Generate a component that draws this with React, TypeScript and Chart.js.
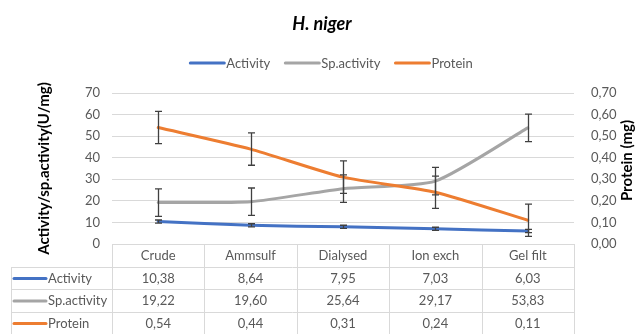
import React, { useEffect, useRef } from "react";
import { Chart, registerables } from "chart.js";

Chart.register(...registerables);

// Purification steps and measured values
const categories = ["Crude", "Ammsulf", "Dialysed", "Ion exch", "Gel filt"];
const activity = [10.38, 8.64, 7.95, 7.03, 6.03];
const spActivity = [19.22, 19.6, 25.64, 29.17, 53.83];
const protein = [0.54, 0.44, 0.31, 0.24, 0.11];

// Standard error bars for each series
const activityErr = [0.74, 0.74, 0.74, 0.74, 0.74];
const spActivityErr = [6.37, 6.37, 6.37, 6.37, 6.37];
const proteinErr = [0.075, 0.075, 0.075, 0.075, 0.075];

// Axis ticks
const leftTicks = [0, 10, 20, 30, 40, 50, 60, 70];
const rightTicks = ["0,00", "0,10", "0,20", "0,30", "0,40", "0,50", "0,60", "0,70"];

const seriesNames = ["Activity", "Sp.activity", "Protein"];
const seriesColors = ["#4472C4", "#A5A5A5", "#ED7D31"];
const seriesValues = [activity, spActivity, protein];
const seriesErrors = [activityErr, spActivityErr, proteinErr];

const FONT = "Lato, 'Open Sans', sans-serif";
const TEXT_GREY = "#595959";
const GRID = "#D9D9D9";

const fmt = (v: number) => v.toFixed(2).replace(".", ",");

// Title, legend, axis titles, error bars and the data table under the plot
const decorations = {
  id: "decorations",
  afterDatasetsDraw(chart: any) {
    const ctx = chart.ctx as CanvasRenderingContext2D;
    ctx.save();
    ctx.strokeStyle = "#404040";
    ctx.lineWidth = 1.3;
    chart.data.datasets.forEach((ds: any, di: number) => {
      const meta = chart.getDatasetMeta(di);
      const scale = chart.scales[ds.yAxisID];
      const errs = seriesErrors[di];
      meta.data.forEach((pt: any, i: number) => {
        const v = ds.data[i];
        const x = Math.round(pt.x) + 0.5;
        const yTop = scale.getPixelForValue(v + errs[i]);
        const yBot = scale.getPixelForValue(v - errs[i]);
        ctx.beginPath();
        ctx.moveTo(x, yTop);
        ctx.lineTo(x, yBot);
        ctx.moveTo(x - 3.5, yTop);
        ctx.lineTo(x + 3.5, yTop);
        ctx.moveTo(x - 3.5, yBot);
        ctx.lineTo(x + 3.5, yBot);
        ctx.stroke();
      });
    });
    ctx.restore();
  },
  afterDraw(chart: any) {
    const ctx = chart.ctx as CanvasRenderingContext2D;
    const area = chart.chartArea;
    const W = chart.width;
    ctx.save();

    // Title
    ctx.fillStyle = "#000000";
    ctx.font = `italic bold 18px ${FONT}`;
    ctx.textAlign = "center";
    ctx.textBaseline = "alphabetic";
    ctx.fillText("H. niger", W / 2, 30);

    // Legend
    ctx.font = `13px ${FONT}`;
    ctx.textBaseline = "middle";
    ctx.textAlign = "left";
    const lineLen = 36;
    const gap = 14;
    const widths = seriesNames.map((n) => ctx.measureText(n).width);
    const total = widths.reduce((a, w) => a + lineLen + 1 + w, 0) + gap * (seriesNames.length - 1);
    let lx = W / 2 + 9 - total / 2;
    const ly = 63;
    seriesNames.forEach((n, i) => {
      ctx.strokeStyle = seriesColors[i];
      ctx.lineWidth = 3;
      ctx.lineCap = "round";
      ctx.beginPath();
      ctx.moveTo(lx + 1, ly);
      ctx.lineTo(lx + lineLen - 1, ly);
      ctx.stroke();
      ctx.fillStyle = TEXT_GREY;
      ctx.fillText(n, lx + lineLen + 1, ly + 0.5);
      lx += lineLen + 1 + widths[i] + gap;
    });

    // Axis titles
    const midY = (area.top + area.bottom) / 2;
    ctx.fillStyle = "#000000";
    ctx.font = `bold 15px ${FONT}`;
    ctx.textAlign = "center";
    ctx.textBaseline = "middle";
    ctx.save();
    ctx.translate(44, midY);
    ctx.rotate(-Math.PI / 2);
    ctx.fillText("Activity/sp.activity(U/mg)", 0, 0);
    ctx.restore();
    ctx.save();
    ctx.translate(627, midY - 8);
    ctx.rotate(-Math.PI / 2);
    ctx.fillText("Protein (mg)", 0, 0);
    ctx.restore();

    // Data table
    const n = categories.length;
    const colW = (area.right - area.left) / n;
    const top = area.bottom;
    const headerH = 22.7;
    const rowH = 22.5;
    const tableLeft = 11;
    const bottom = top + headerH + rowH * 3;
    const px = (v: number) => Math.round(v) + 0.5;

    ctx.strokeStyle = GRID;
    ctx.lineWidth = 1;
    ctx.lineCap = "butt";
    ctx.beginPath();
    ctx.moveTo(area.left, px(top));
    ctx.lineTo(area.right, px(top));
    for (let r = 0; r < 3; r++) {
      const y = px(top + headerH + r * rowH);
      ctx.moveTo(tableLeft, y);
      ctx.lineTo(area.right, y);
    }
    ctx.moveTo(tableLeft + 0.5, px(top + headerH));
    ctx.lineTo(tableLeft + 0.5, bottom);
    for (let c = 0; c <= n; c++) {
      const x = px(area.left + c * colW);
      ctx.moveTo(x, top);
      ctx.lineTo(x, bottom);
    }
    ctx.stroke();

    ctx.font = `13px ${FONT}`;
    ctx.fillStyle = TEXT_GREY;
    ctx.textAlign = "center";
    ctx.textBaseline = "middle";
    categories.forEach((c, i) => {
      ctx.fillText(c, area.left + colW * (i + 0.5), top + headerH / 2 + 0.5);
    });
    seriesNames.forEach((name, r) => {
      const cy = top + headerH + rowH * (r + 0.5) + 0.5;
      ctx.strokeStyle = seriesColors[r];
      ctx.lineWidth = 3;
      ctx.lineCap = "round";
      ctx.beginPath();
      ctx.moveTo(14, cy);
      ctx.lineTo(46, cy);
      ctx.stroke();
      ctx.fillStyle = TEXT_GREY;
      ctx.textAlign = "left";
      ctx.fillText(name, 48, cy);
      ctx.textAlign = "center";
      seriesValues[r].forEach((v, i) => {
        ctx.fillText(fmt(v), area.left + colW * (i + 0.5), cy);
      });
    });

    ctx.restore();
  },
};

export default function App() {
  const canvasRef = useRef<HTMLCanvasElement | null>(null);

  useEffect(() => {
    document.body.style.margin = "0";
    document.body.style.overflow = "hidden";
    const canvas = canvasRef.current;
    if (!canvas) return;

    const chart = new Chart(canvas, {
      type: "line",
      data: {
        labels: categories,
        datasets: seriesNames.map((name, i) => ({
          label: name,
          data: seriesValues[i],
          borderColor: seriesColors[i],
          backgroundColor: seriesColors[i],
          borderWidth: 3,
          borderCapStyle: "round",
          borderJoinStyle: "round",
          pointRadius: 0,
          tension: 0.2,
          yAxisID: i === 2 ? "y1" : "y",
          order: 3 - i,
        })),
      },
      options: {
        responsive: false,
        animation: false,
        events: [],
        layout: { padding: { top: 93, bottom: 90, left: 0, right: 0 } },
        plugins: {
          legend: { display: false },
          title: { display: false },
          tooltip: { enabled: false },
        },
        scales: {
          x: { type: "category", display: false, offset: true },
          y: {
            position: "left",
            min: leftTicks[0],
            max: leftTicks[leftTicks.length - 1],
            ticks: {
              stepSize: leftTicks[1] - leftTicks[0],
              padding: 12,
              color: TEXT_GREY,
              font: { family: FONT, size: 13 },
            },
            grid: { color: GRID, drawTicks: false, lineWidth: 1 },
            border: { display: false },
            afterFit: (s: any) => {
              s.width = 112;
            },
          },
          y1: {
            position: "right",
            min: 0,
            max: 0.7,
            ticks: {
              stepSize: 0.1,
              padding: 17,
              color: TEXT_GREY,
              font: { family: FONT, size: 13 },
              callback: (_v: any, i: number) => rightTicks[i],
            },
            grid: { display: false, drawTicks: false },
            border: { display: false },
            afterFit: (s: any) => {
              s.width = 70;
            },
          },
        },
      } as any,
      plugins: [decorations],
    });

    return () => chart.destroy();
  }, []);

  return (
    <div style={{ width: 644, height: 334, background: "#ffffff" }}>
      <canvas ref={canvasRef} width={644} height={334} style={{ display: "block" }} />
    </div>
  );
}
